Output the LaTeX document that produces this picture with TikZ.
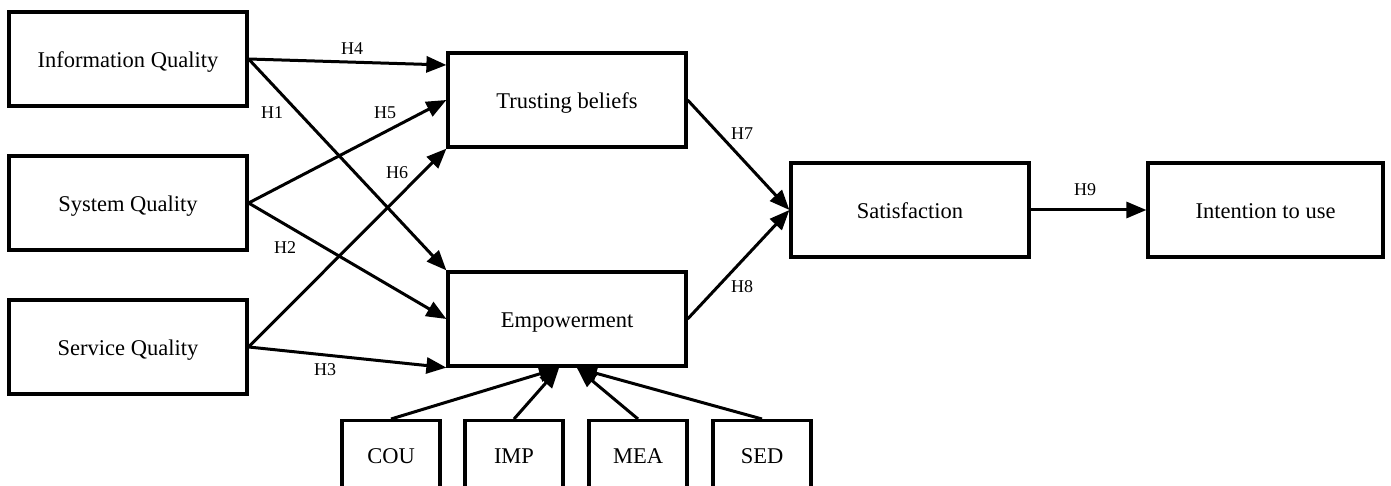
\documentclass[tikz,border=0pt]{standalone}
\usepackage{fontspec}
\setmainfont{Liberation Serif}
\usetikzlibrary{arrows.meta}
\begin{document}
\begin{tikzpicture}[x=1pt,y=-1pt,
  boxfont/.style={font=\fontsize{22.5}{27}\selectfont, text height=19pt, text depth=2.2pt},
  box/.style={draw, line width=3.2pt, line join=miter, minimum width=238pt, minimum height=94pt,
    inner sep=0pt, boxfont},
  smallbox/.style={draw, line width=3.2pt, minimum width=98pt, minimum height=94pt, inner sep=0pt},
  arr/.style={line width=3pt, -{Triangle[length=20pt,width=16pt]}},
  hyp/.style={inner sep=0pt, font=\fontsize{18}{21}\selectfont}]
\useasboundingbox (0,0) rectangle (1391,486);
\clip (0,0) rectangle (1391,486);
\fill[white] (0,0) rectangle (1391,486);

% constructs
\node[box] (iq) at (128,59) {Information Quality};
\node[box] (sq) at (128,203) {System Quality};
\node[box] (sv) at (128,347) {Service Quality};
\node[box] (tb) at (567,100) {Trusting beliefs};
\node[box] (emp) at (567,319) {Empowerment};
\node[box] (sat) at (910,210) {Satisfaction};
\node[box, minimum width=235pt] (int) at (1265.5,210) {Intention to use};

% empowerment dimensions (boxes run past the lower edge)
\node[smallbox, anchor=north] (cou) at (391,419) {};
\node[smallbox, anchor=north] (imp) at (514,419) {};
\node[smallbox, anchor=north] (mea) at (638,419) {};
\node[smallbox, anchor=north] (sed) at (762,419) {};
\node[boxfont, inner sep=0pt] (coul) at (391,455) {COU};
\node[boxfont, inner sep=0pt] (impl) at (514,455) {IMP};
\node[boxfont, inner sep=0pt] (meal) at (638,455) {MEA};
\node[boxfont, inner sep=0pt] (sedl) at (762,455) {SED};

\coordinate (eL) at (559,368);
\coordinate (eR) at (577,368);

% hypothesised paths
\draw[arr] (iq.east) -- ([yshift=35pt]tb.west);
\draw[arr] (iq.east) -- (emp.north west);
\draw[arr] (sq.east) -- (tb.west);
\draw[arr] (sq.east) -- (emp.west);
\draw[arr] (sv.east) -- (tb.south west);
\draw[arr] (sv.east) -- (emp.south west);
\draw[arr] (tb.east) -- (sat.west);
\draw[arr] (emp.east) -- (sat.west);
\draw[arr] (sat.east) -- (int.west);

\draw[arr] (cou.north) -- (eL);
\draw[arr] (imp.north) -- (eL);
\draw[arr] (mea.north) -- (eR);
\draw[arr] (sed.north) -- (eR);

% hypothesis labels
\node[hyp] (h4) at (352,49) {H4};
\node[hyp] (h1) at (272,113) {H1};
\node[hyp] (h5) at (385,113) {H5};
\node[hyp] (h6) at (397,173) {H6};
\node[hyp] (h2) at (285,248) {H2};
\node[hyp] (h3) at (325,370) {H3};
\node[hyp] (h7) at (742,134) {H7};
\node[hyp] (h8) at (742,287) {H8};
\node[hyp] (h9) at (1085,190) {H9};
\end{tikzpicture}
\end{document}
